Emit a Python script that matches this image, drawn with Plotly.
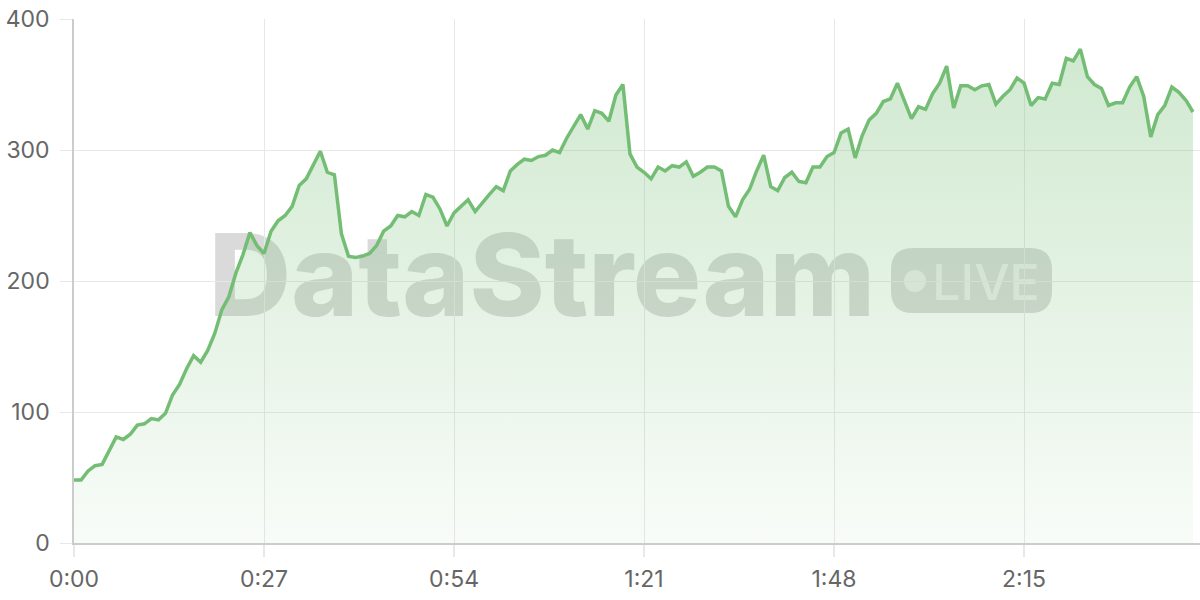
import plotly.graph_objects as go

# ---- data ----
seconds = list(range(160))
values = [
    48, 48, 55, 59, 60, 71, 81, 79, 83, 90,
    91, 95, 94, 99, 113, 121, 133, 143, 138, 147,
    160, 178, 188, 206, 220, 237, 227, 221, 238, 246,
    250, 257, 273, 278, 289, 299, 283, 281, 236, 219,
    218, 219, 221, 227, 238, 242, 250, 249, 253, 250,
    266, 264, 255, 242, 252, 257, 262, 253, 260, 266,
    272, 269, 284, 289, 293, 292, 295, 296, 300, 298,
    309, 318, 327, 316, 330, 328, 322, 342, 350, 297,
    287, 283, 278, 287, 284, 288, 287, 291, 280, 283,
    287, 287, 284, 257, 249, 262, 270, 284, 296, 272,
    269, 279, 283, 276, 275, 287, 287, 295, 298, 313,
    316, 294, 311, 323, 328, 337, 339, 351, 337, 324,
    333, 331, 343, 351, 364, 332, 349, 349, 346, 349,
    350, 335, 341, 346, 355, 351, 334, 340, 339, 351,
    350, 370, 368, 377, 356, 350, 347, 334, 336, 336,
    348, 356, 341, 310, 327, 334, 348, 344, 338, 329,
]
x_tick_vals = [0, 27, 54, 81, 108, 135]
x_tick_text = ["0:00", "0:27", "0:54", "1:21", "1:48", "2:15"]
y_tick_vals = [0, 100, 200, 300, 400]

LINE = "rgb(116,189,116)"
GRID = "#e8e8e8"
AXIS = "#cccccc"
TXT = "#666666"

fig = go.Figure()
fig.add_trace(go.Scatter(
    x=seconds, y=values, mode="lines",
    line=dict(color=LINE, width=3.5),
    fill="tozeroy",
    fillgradient=dict(
        type="vertical",
        colorscale=[[0, "rgba(116,189,116,0.05)"], [1, "rgba(116,189,116,0.34)"]],
        start=0, stop=380,
    ),
    hoverinfo="skip",
))

# ---- watermark (drawn below the traces) ----
# plot area on screen: x 74..1200, y 19..543
def px(xp):
    return (xp - 74) / 1126.0

def py(yp):
    return (543 - yp) / 524.0

WM = "rgba(120,120,120,0.27)"
shapes = []
shapes.append(dict(
    type="rect", xref="paper", yref="paper", layer="below",
    x0=px(202), x1=px(882), y0=py(330), y1=py(210),
    line=dict(width=0), fillcolor="rgba(0,0,0,0)",
    label=dict(text="DataStream", textposition="middle center",
               font=dict(family="Inter", size=114, color=WM, weight=800)),
))
bx0, bx1, by0, by1 = 891, 1052, 248, 313
r = 22
rx = r / 1126.0
ry = r / 524.0
X0, X1, Ytop, Ybot = px(bx0), px(bx1), py(by0), py(by1)
path = (f"M {X0+rx},{Ybot} L {X1-rx},{Ybot} Q {X1},{Ybot} {X1},{Ybot+ry} "
        f"L {X1},{Ytop-ry} Q {X1},{Ytop} {X1-rx},{Ytop} "
        f"L {X0+rx},{Ytop} Q {X0},{Ytop} {X0},{Ytop-ry} "
        f"L {X0},{Ybot+ry} Q {X0},{Ybot} {X0+rx},{Ybot} Z")
shapes.append(dict(type="path", path=path, xref="paper", yref="paper", layer="below",
                   line=dict(width=0), fillcolor=WM))
shapes.append(dict(type="circle", xref="paper", yref="paper", layer="below",
                   x0=px(904), x1=px(926), y0=py(292), y1=py(270),
                   line=dict(width=0), fillcolor="rgba(255,255,255,0.55)"))
shapes.append(dict(
    type="rect", xref="paper", yref="paper", layer="below",
    x0=px(932), x1=px(1040), y0=py(305), y1=py(255),
    line=dict(width=0), fillcolor="rgba(0,0,0,0)",
    label=dict(text="LIVE", textposition="middle center",
               font=dict(family="Inter", size=50, color="rgba(255,255,255,0.55)", weight=500)),
))

fig.update_layout(
    width=1200, height=600,
    margin=dict(l=74, r=0, t=19, b=57, autoexpand=False),
    paper_bgcolor="white", plot_bgcolor="white",
    showlegend=False,
    hovermode=False,
    shapes=shapes,
    font=dict(family="Inter", size=23, color=TXT),
    xaxis=dict(
        range=[0, 160], tickvals=x_tick_vals, ticktext=x_tick_text,
        showgrid=True, gridcolor=GRID, gridwidth=1,
        showline=True, linecolor=AXIS, linewidth=1.5,
        ticks="outside", ticklen=12, tickcolor=GRID, tickwidth=1.5,
        ticklabelstandoff=3, zeroline=False, automargin=False,
        ticklabeloverflow="allow",
    ),
    yaxis=dict(
        range=[0, 400], tickvals=y_tick_vals,
        showgrid=True, gridcolor=GRID, gridwidth=1,
        showline=True, linecolor=AXIS, linewidth=1.5,
        ticks="outside", ticklen=12, tickcolor=GRID, tickwidth=1,
        ticklabelstandoff=6, zeroline=False, automargin=False,
        ticklabeloverflow="allow",
    ),
)

# remove the default 8 px page margin so the 1200x600 figure fills the window
fig.write_html("out.html", config={"displayModeBar": False},
               post_script="document.body.style.margin='0';")
